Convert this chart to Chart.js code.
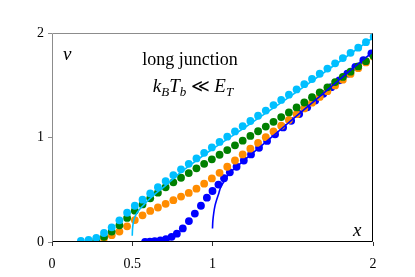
<!DOCTYPE html>
<html>
<head>
<meta charset="utf-8">
<script src="https://cdn.jsdelivr.net/npm/chart.js@4/dist/chart.umd.min.js"></script>
<style>
  html, body { margin: 0; padding: 0; background: #fff; }
  #wrap { width: 415px; height: 277px; }
</style>
</head>
<body>
<div id="wrap"><canvas id="nuChart" width="415" height="277"></canvas></div>
<script>
// shared x grid of the dot series
var dotX = [0.18, 0.228, 0.276, 0.324, 0.372, 0.42, 0.468, 0.516, 0.564, 0.612,
            0.66, 0.708, 0.756, 0.804, 0.852, 0.9, 0.948, 0.996, 1.044, 1.092,
            1.14, 1.188, 1.236, 1.284, 1.332, 1.38, 1.428, 1.476, 1.524, 1.572,
            1.62, 1.668, 1.716, 1.764, 1.812, 1.86, 1.908, 1.956, 2.004];

var cyanY = [0.01, 0.02, 0.04, 0.086, 0.14, 0.207, 0.28, 0.347, 0.405, 0.465,
             0.525, 0.583, 0.64, 0.695, 0.748, 0.80, 0.853, 0.905, 0.958, 1.008,
             1.058, 1.108, 1.158, 1.208, 1.258, 1.31, 1.36, 1.41, 1.46, 1.51,
             1.56, 1.61, 1.66, 1.71, 1.76, 1.81, 1.86, 1.912, 1.965];

var greenY = [null, 0.0, 0.02, 0.05, 0.10, 0.16, 0.23, 0.30, 0.36, 0.418,
              0.472, 0.524, 0.571, 0.615, 0.66, 0.705, 0.748, 0.791, 0.835, 0.88,
              0.925, 0.97, 1.015, 1.06, 1.105, 1.15, 1.195, 1.24, 1.288, 1.335,
              1.385, 1.432, 1.48, 1.53, 1.58, 1.63, 1.68, 1.73, 1.78];

var orangeY = [null, null, 0.0, 0.035, 0.065, 0.10, 0.15, 0.21, 0.255, 0.297,
               0.33, 0.365, 0.40, 0.435, 0.47, 0.51, 0.558, 0.608, 0.662, 0.72,
               0.78, 0.838, 0.893, 0.948, 1.003, 1.058, 1.113, 1.168, 1.223, 1.278,
               1.333, 1.388, 1.443, 1.498, 1.553, 1.608, 1.663, 1.718, 1.773];

var blueX = [0.58, 0.61, 0.64, 0.675, 0.71, 0.745, 0.778, 0.815, 0.853, 0.89,
             0.928, 0.965, 1.0, 1.037, 1.072, 1.108, 1.15, 1.195, 1.24, 1.29,
             1.34, 1.39, 1.44, 1.49, 1.54, 1.59, 1.64, 1.69, 1.74, 1.79,
             1.84, 1.89, 1.94, 1.99];
var blueY = [0.0, 0.003, 0.008, 0.015, 0.028, 0.05, 0.08, 0.13, 0.2, 0.272,
             0.347, 0.424, 0.488, 0.55, 0.61, 0.667, 0.72, 0.78, 0.838, 0.902,
             0.967, 1.031, 1.096, 1.16, 1.225, 1.289, 1.353, 1.418, 1.482, 1.547,
             1.611, 1.676, 1.74, 1.805];

// analytic curves
var cyanLineX = [0.5, 0.502, 0.507, 0.515, 0.53, 0.55, 0.575, 0.6, 0.65, 0.7, 0.8, 0.9, 1.0, 1.2, 1.5, 2.0];
var cyanLineY = [0.06, 0.13, 0.19, 0.235, 0.28, 0.32, 0.36, 0.40, 0.47, 0.53, 0.665, 0.78, 0.89, 1.095, 1.41, 1.955];

var blueLineX = [1.0, 1.002, 1.008, 1.016, 1.025, 1.04, 1.05, 1.08, 1.11, 1.15, 1.2, 1.3, 1.4, 1.5, 1.6, 1.7, 1.8, 1.9, 2.0];
var blueLineY = [0.13, 0.2, 0.28, 0.35, 0.40, 0.47, 0.52, 0.60, 0.665, 0.72, 0.785, 0.915, 1.045, 1.175, 1.305, 1.435, 1.565, 1.695, 1.82];

var xTicks = [0, 0.5, 1, 2];
var yTicks = [0, 1, 2];

function pts(xs, ys) {
    var out = [];
    for (var i = 0; i < xs.length; i++) {
        if (ys[i] !== null) out.push({ x: xs[i], y: ys[i] });
    }
    return out;
}

var dotStyle = function (color, order) {
    return {
        showLine: false,
        pointRadius: 3.9,
        pointBorderWidth: 0,
        pointBackgroundColor: color,
        backgroundColor: color,
        order: order
    };
};

var lineStyle = function (color, order) {
    return {
        showLine: true,
        borderColor: color,
        borderWidth: 1.6,
        pointRadius: 0,
        tension: 0.3,
        fill: false,
        order: order
    };
};

var serif = "'Liberation Serif', 'DejaVu Serif', serif";

var textPlugin = {
    id: 'frameAndText',
    afterDraw: function (chart) {
        var ctx = chart.ctx;
        var a = chart.chartArea;
        var l = Math.round(a.left) + 0.5, r = Math.round(a.right) - 0.5;
        var t = Math.round(a.top) + 0.5, b = Math.round(a.bottom) - 0.5;
        ctx.save();
        ctx.lineWidth = 1;
        ctx.strokeStyle = '#8c8c8c';
        ctx.beginPath();
        ctx.moveTo(l, b); ctx.lineTo(l, t); ctx.lineTo(r, t);
        ctx.stroke();
        ctx.strokeStyle = '#000';
        ctx.beginPath();
        ctx.moveTo(r, t); ctx.lineTo(r, b); ctx.lineTo(l, b);
        ctx.stroke();

        ctx.fillStyle = '#000';
        ctx.textBaseline = 'alphabetic';
        ctx.textAlign = 'left';
        ctx.font = 'italic 19px ' + serif;
        ctx.fillText('ν', 63, 60);
        ctx.fillText('x', 353, 236);

        ctx.textAlign = 'center';
        ctx.font = '18px ' + serif;
        ctx.fillText('long junction', 190, 65);

        // k_B T_b << E_T
        var parts = [
            ['k', 'italic 19px ', 0], ['B', 'italic 13px ', 4], ['T', 'italic 19px ', 0],
            ['b', 'italic 13px ', 4], [' \u226A ', '18px ', 0], ['E', 'italic 19px ', 0], ['T', 'italic 13px ', 4]
        ];
        var total = 0;
        parts.forEach(function (p) { ctx.font = p[1] + serif; total += ctx.measureText(p[0]).width; });
        var xx = 193 - total / 2;
        ctx.textAlign = 'left';
        parts.forEach(function (p) {
            ctx.font = p[1] + serif;
            ctx.fillText(p[0], xx, 92 + p[2]);
            xx += ctx.measureText(p[0]).width;
        });
        ctx.restore();
    }
};

new Chart(document.getElementById('nuChart'), {
    type: 'scatter',
    data: {
        datasets: [
            Object.assign({ label: 'cyan curve', data: pts(cyanLineX, cyanLineY) }, lineStyle('#00bfff', 1)),
            Object.assign({ label: 'blue curve', data: pts(blueLineX, blueLineY) }, lineStyle('#0000ff', 0)),
            Object.assign({ label: 'cyan', data: pts(dotX, cyanY) }, dotStyle('#00bfff', 2)),
            Object.assign({ label: 'green', data: pts(dotX, greenY) }, dotStyle('#008000', 3)),
            Object.assign({ label: 'orange', data: pts(dotX, orangeY) }, dotStyle('#ff8c00', 4)),
            Object.assign({ label: 'blue', data: pts(blueX, blueY) }, dotStyle('#0000ff', 5))
        ]
    },
    options: {
        responsive: false,
        animation: false,
        layout: { padding: { top: 33, right: 42, left: 0, bottom: 0 } },
        plugins: {
            legend: { display: false },
            tooltip: { enabled: false }
        },
        scales: {
            x: {
                type: 'linear',
                min: 0,
                max: 2,
                afterBuildTicks: function (scale) {
                    scale.ticks = xTicks.map(function (v) { return { value: v }; });
                },
                afterFit: function (scale) { scale.height = 35; },
                border: { display: false },
                grid: { drawOnChartArea: false, drawTicks: true, tickLength: 4, color: '#333' },
                ticks: {
                    padding: 10,
                    color: '#000',
                    maxRotation: 0,
                    font: { family: serif, size: 14 },
                    callback: function (v) { return String(v); }
                }
            },
            y: {
                type: 'linear',
                min: 0,
                max: 2,
                afterBuildTicks: function (scale) {
                    scale.ticks = yTicks.map(function (v) { return { value: v }; });
                },
                afterFit: function (scale) { scale.width = 52; },
                border: { display: false },
                grid: { drawOnChartArea: false, drawTicks: true, tickLength: 4, color: '#8c8c8c' },
                ticks: {
                    padding: 4,
                    color: '#000',
                    font: { family: serif, size: 14 },
                    callback: function (v) { return String(v); }
                }
            }
        }
    },
    plugins: [textPlugin]
});
</script>
</body>
</html>
